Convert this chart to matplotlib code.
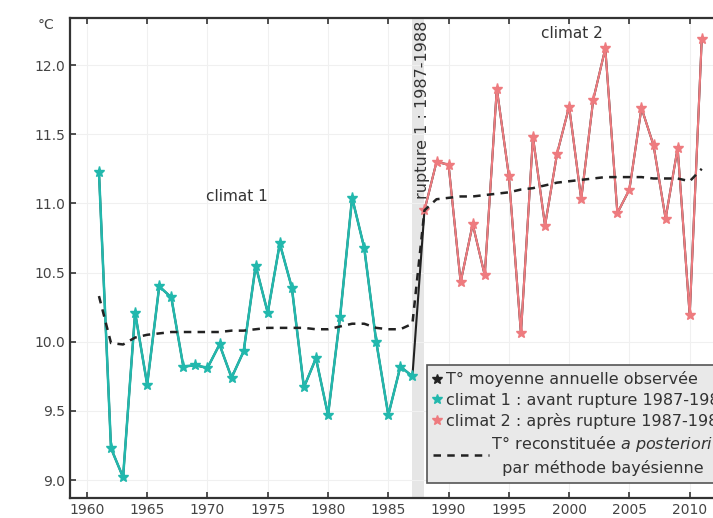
import matplotlib
matplotlib.use("Agg")
import matplotlib.pyplot as plt
import numpy as np
from matplotlib.legend_handler import HandlerLine2D
from matplotlib.lines import Line2D

# years and observed annual mean temperature
years1 = np.arange(1961, 1988)
temp1 = [11.23, 9.23, 9.02, 10.21, 9.69, 10.40, 10.32, 9.82, 9.83, 9.81,
         9.98, 9.74, 9.93, 10.55, 10.21, 10.71, 10.39, 9.67, 9.88, 9.47,
         10.18, 11.04, 10.68, 10.00, 9.47, 9.82, 9.75]
years2 = np.arange(1988, 2012)
temp2 = [10.95, 11.30, 11.28, 10.43, 10.85, 10.48, 11.83, 11.20, 10.06, 11.48,
         10.84, 11.36, 11.70, 11.03, 11.75, 12.12, 10.93, 11.10, 11.69, 11.42,
         10.89, 11.40, 10.19, 12.19]

# reconstructed temperature (bayesian, a posteriori)
recon = [10.33, 9.99, 9.98, 10.03, 10.05, 10.06, 10.07, 10.07, 10.07, 10.07,
         10.07, 10.08, 10.08, 10.09, 10.10, 10.10, 10.10, 10.10, 10.09, 10.09,
         10.11, 10.13, 10.13, 10.10, 10.09, 10.09, 10.13,
         10.95, 11.03, 11.04, 11.05, 11.05, 11.06, 11.07, 11.08, 11.10, 11.11,
         11.13, 11.15, 11.16, 11.17, 11.18, 11.19, 11.19, 11.19, 11.19, 11.18,
         11.18, 11.18, 11.16, 11.25]

xticks = np.arange(1960, 2011, 5)
yticks = [9.0, 9.5, 10.0, 10.5, 11.0, 11.5, 12.0]

teal = "#22b8ad"
pink = "#ee7b7f"


class LongDash(HandlerLine2D):
    # make the dashed legend key longer than the marker keys
    def create_artists(self, legend, orig_handle, xdescent, ydescent,
                       width, height, fontsize, trans):
        return super().create_artists(legend, orig_handle, xdescent, ydescent,
                                      width + 3.0 * fontsize, height, fontsize, trans)


fig = plt.figure(figsize=(7.13, 5.18), dpi=100)
ax = fig.add_axes([0.0982, 0.0386, 0.93, 0.9266])

ax.axvspan(1987, 1988, color="#e6e6e6", zorder=0, lw=0)

all_years = np.concatenate([years1, years2])
all_temp = np.concatenate([temp1, temp2])
ax.plot(all_years, all_temp, color="#222222", lw=1.5, zorder=2)
ax.plot(years1, temp1, color=teal, lw=1.8, marker="*", ms=8, zorder=3)
ax.plot(years2, temp2, color=pink, lw=1.5, marker="*", ms=8, zorder=3)
ax.plot(all_years, recon, color="#222222", lw=1.8, ls=(0, (3, 2.5)), zorder=4)

ax.text(1972.4, 11.05, "climat 1", fontsize=11, color="#333333", ha="center", va="center")
ax.text(2000.2, 12.23, "climat 2", fontsize=11, color="#333333", ha="center", va="center")
ax.text(1987.8, 12.32, "rupture 1 : 1987-1988", fontsize=11.5, color="#333333",
        rotation=90, ha="center", va="top")
ax.text(-0.024, 0.985, "°C", transform=ax.transAxes, fontsize=10, color="#444444",
        ha="right", va="center")

ax.set_xlim(1958.6, 2013.6)
ax.set_ylim(8.87, 12.34)
ax.set_xticks(xticks)
ax.set_yticks(yticks)
ax.set_yticklabels([f"{v:.1f}" for v in yticks])
ax.grid(True, color="#f0f0f0", lw=0.8)
ax.set_axisbelow(True)
ax.tick_params(direction="in", top=True, length=4, width=1.2, color="#333333",
               labelsize=10, labelcolor="#444444")
for s in ax.spines.values():
    s.set_color("#333333")
    s.set_linewidth(1.6)

handles = [
    Line2D([], [], color="#222222", marker="*", ls="none", ms=7),
    Line2D([], [], color=teal, marker="*", ls="none", ms=7),
    Line2D([], [], color=pink, marker="*", ls="none", ms=7),
    Line2D([], [], color="#222222", lw=1.8, ls=(0, (3, 2.5))),
]
labels = [
    "T° moyenne annuelle observée",
    "climat 1 : avant rupture 1987-1988",
    "climat 2 : après rupture 1987-1988",
    "         T° reconstituée $\\it{a\\ posteriori}$\n         par méthode bayésienne",
]
leg = ax.legend(handles, labels, loc="upper left", bbox_to_anchor=(0.538, 0.277),
                fontsize=11.5, handlelength=0.5, handletextpad=0.3, borderpad=0.4,
                labelspacing=0.32, borderaxespad=0, fancybox=False, framealpha=1,
                handler_map={handles[3]: LongDash()})
leg.get_frame().set_facecolor("#e9e9e9")
leg.get_frame().set_edgecolor("#555555")
leg.get_frame().set_linewidth(1.2)
for t in leg.get_texts():
    t.set_color("#333333")
leg.get_texts()[3].set_multialignment("center")
leg.get_texts()[3].set_linespacing(1.5)

fig.savefig("out.png", dpi=100)
